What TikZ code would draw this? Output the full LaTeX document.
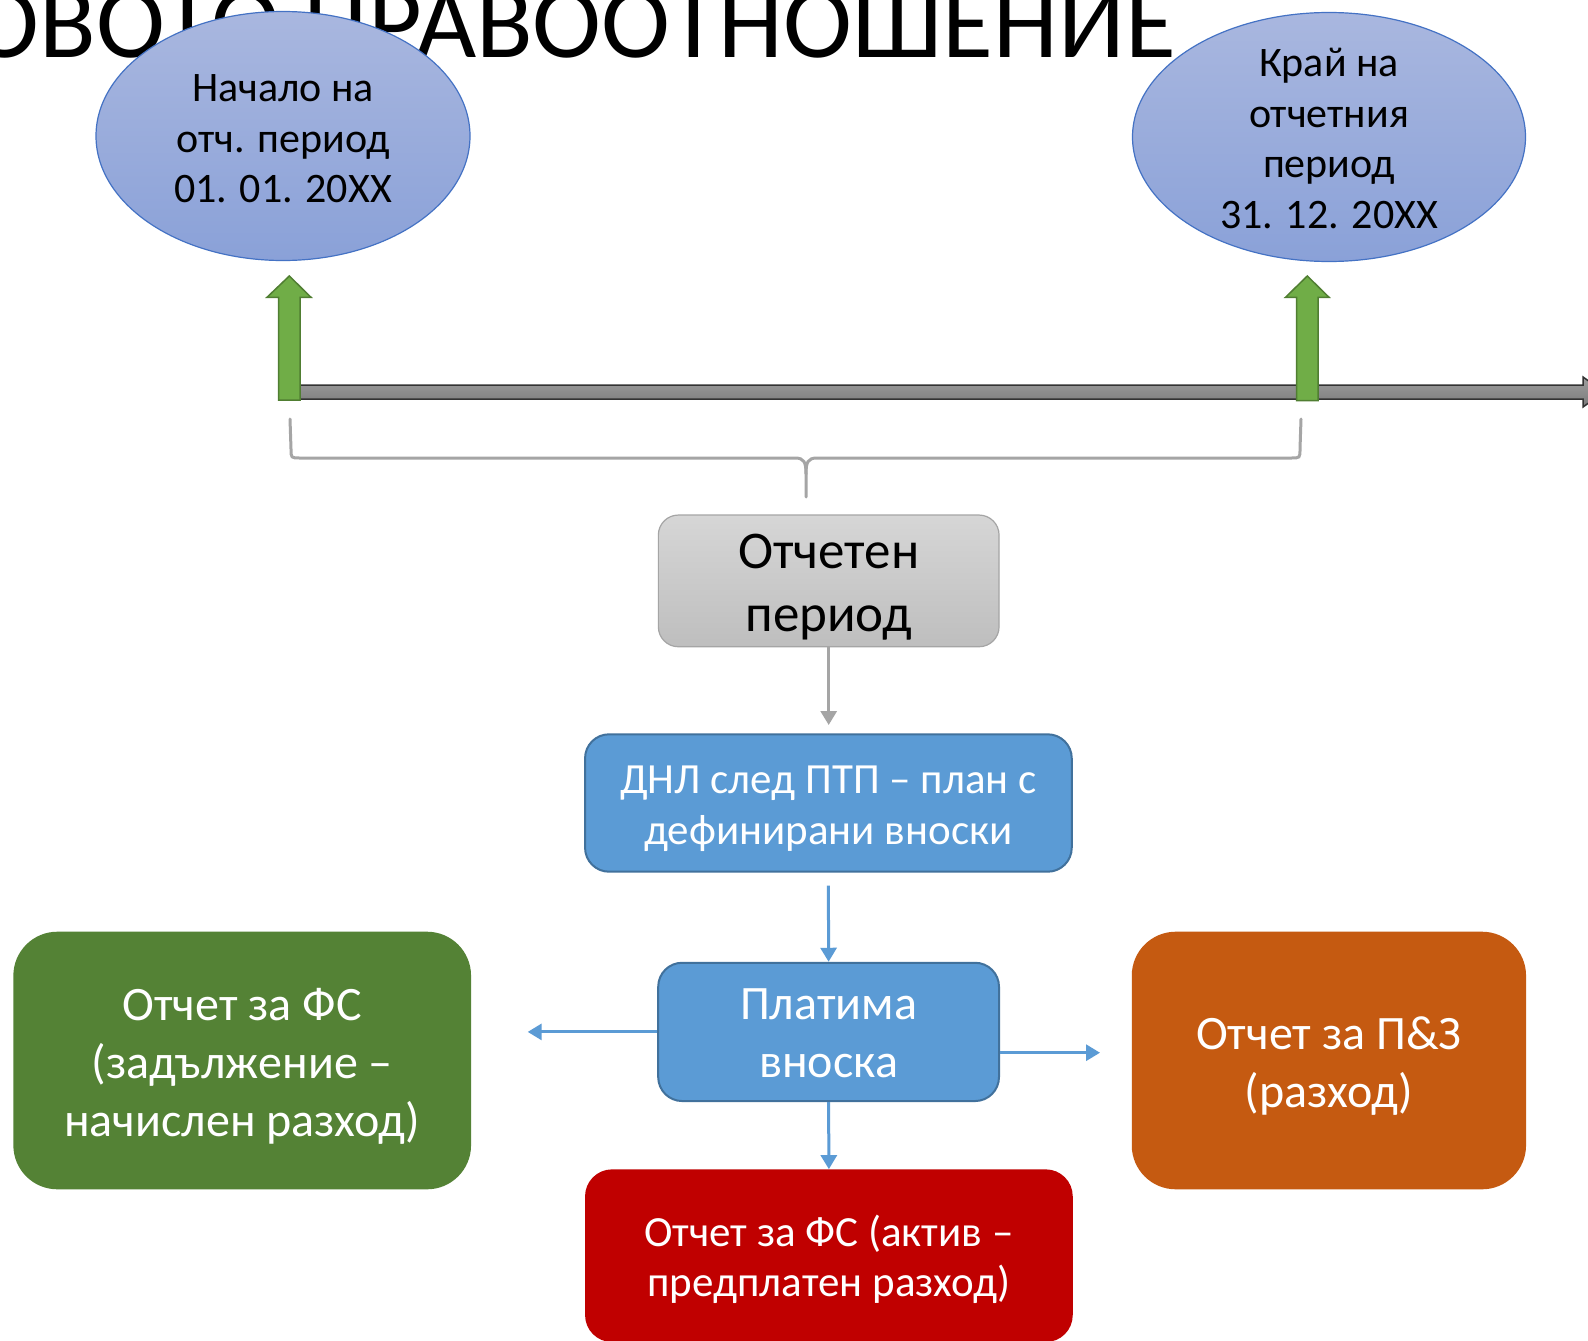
\documentclass[tikz,border=0pt]{standalone}
\usepackage{fontspec}
\setmainfont{Carlito}
\usetikzlibrary{shapes.geometric,arrows.meta}
\definecolor{ellTop}{HTML}{A9B7DF}
\definecolor{ellBot}{HTML}{8AA1D8}
\definecolor{ellLine}{HTML}{4472C4}
\definecolor{grnFill}{HTML}{70AD47}
\definecolor{grnLine}{HTML}{507E32}
\definecolor{braceGray}{HTML}{A5A5A5}
\definecolor{boxGrayTop}{HTML}{D6D6D6}
\definecolor{boxGrayBot}{HTML}{BEBEBE}
\definecolor{blueFill}{HTML}{5B9BD5}
\definecolor{blueLine}{HTML}{41719C}
\definecolor{darkGreen}{HTML}{548235}
\definecolor{orangeFill}{HTML}{C55A11}
\definecolor{redFill}{HTML}{C00000}
\tikzset{
  ellnode/.style={ellipse, draw=ellLine, line width=1.2pt, top color=ellTop, bottom color=ellBot, inner sep=0pt},
  elltext/.style={align=center, font=\fontsize{42}{50.6}\selectfont, text=black},
  greenarrow/.style={fill=grnFill, draw=grnLine, line width=1.5pt, line join=miter},
  graybox/.style={rounded corners=20pt, draw=braceGray, line width=1.2pt, top color=boxGrayTop, bottom color=boxGrayBot, inner sep=0pt},
  bluebox/.style={rounded corners=24pt, draw=blueLine, fill=blueFill, line width=2pt, inner sep=0pt},
  colbox/.style={rounded corners=44pt, inner sep=0pt},
  boxtext/.style={align=center, inner sep=0pt, text=white},
  garrow/.style={draw=braceGray, line width=3pt, -{Triangle[width=16pt,length=14pt]}},
  barrow/.style={draw=blueFill, line width=3pt, -{Triangle[width=16pt,length=14pt]}},
}
\begin{document}
\begin{tikzpicture}[x=1pt,y=-1pt]
\useasboundingbox (0,0) rectangle (1588,1341);
\fill[white] (0,0) rectangle (1588,1341);
% title (partly hidden)
\node[anchor=base east, inner sep=0pt, font=\fontsize{104}{104}\selectfont] (title) at (1176,57.5) {ОВОТО ПРАВООТНОШЕНИЕ};
% ellipses
\node[ellnode, minimum width=374pt, minimum height=249pt] (startell) at (283,136) {};
\node[elltext] (starttext) at (283,139) {Начало на\\отч. период\\01. 01. 20XX};
\node[ellnode, minimum width=393pt, minimum height=249pt] (endell) at (1329,137) {};
\node[elltext] (endtext) at (1329,138.5) {Край на\\отчетния\\период\\31. 12. 20XX};
% timeline
\draw[top color=black!38, bottom color=black!52, draw=black!80, line width=1.5pt]
  (300,385) -- (1583,385) -- (1583,377) -- (1604,392) -- (1583,407) -- (1583,399) -- (300,399) -- cycle;
% green arrows
\draw[greenarrow] (289.3,276) -- (311,297.3) -- (300,297.3) -- (300,400) -- (278.7,400) -- (278.7,297.3) -- (267,297.3) -- cycle;
\draw[greenarrow] (1307.3,276) -- (1329,297.3) -- (1318,297.3) -- (1318,400.7) -- (1296.6,400.7) -- (1296.6,297.3) -- (1285.5,297.3) -- cycle;
% brace
\draw[braceGray, line width=3pt, line cap=round]
  (290,419) -- (291,449) .. controls (291,458) .. (300,458) -- (795,458)
  .. controls (804,458) and (806,462) .. (806,474) -- (806,497);
\draw[braceGray, line width=3pt, line cap=round]
  (1301,419) -- (1300,449) .. controls (1300,458) .. (1291,458) -- (817,458)
  .. controls (808,458) and (806,462) .. (806,474);
% boxes
\node[graybox, minimum width=340.7pt, minimum height=131.7pt] (period) at (828.7,580.9) {};
\node[boxtext, text=black, font=\fontsize{53}{63}\selectfont] (periodtext) at (828.7,587) {Отчетен\\период};
\node[bluebox, minimum width=486.7pt, minimum height=137.4pt] (dnl) at (828.4,803) {};
\node[boxtext, font=\fontsize{43}{50.6}\selectfont] (dnltext) at (828.4,809) {ДНЛ след ПТП – план с\\дефинирани вноски};
\node[bluebox, minimum width=340.8pt, minimum height=138.3pt] (pay) at (828.6,1031.9) {};
\node[boxtext, font=\fontsize{48}{57.7}\selectfont] (paytext) at (828.6,1033.4) {Платима\\вноска};
\node[colbox, fill=darkGreen, minimum width=457.7pt, minimum height=257.6pt] (fsl) at (242.2,1060.5) {};
\node[boxtext, font=\fontsize{48}{57.7}\selectfont] (fsltext) at (242.2,1066.5) {Отчет за ФС\\(задължение –\\начислен разход)};
\node[colbox, fill=orangeFill, minimum width=394.3pt, minimum height=257.6pt] (pl) at (1328.9,1060.5) {};
\node[boxtext, font=\fontsize{48}{58.7}\selectfont] (pltext) at (1328.9,1066) {Отчет за П\&З\\(разход)};
\node[colbox, rounded corners=27pt, fill=redFill, minimum width=487.7pt, minimum height=172.7pt] (fsa) at (828.9,1255.7) {};
\node[boxtext, font=\fontsize{43}{50.6}\selectfont, text depth=0pt] (fsatext) at (828.9,1255.7) {Отчет за ФС (актив –\\предплатен разход)};
% connectors
\coordinate (periodEnd) at (828.7,725);
\coordinate (leftEnd) at (527.7,1031.9);
\coordinate (rightEnd) at (1100,1052.7);
\draw[garrow] (period.south) -- (periodEnd);
\draw[barrow] ([yshift=-13pt]dnl.south) -- (pay.north);
\draw[barrow] (pay.west) -- (leftEnd);
\draw[barrow] (pay.east |- rightEnd) -- (rightEnd);
\draw[barrow] (pay.south) -- (fsa.north);
\end{tikzpicture}
\end{document}
